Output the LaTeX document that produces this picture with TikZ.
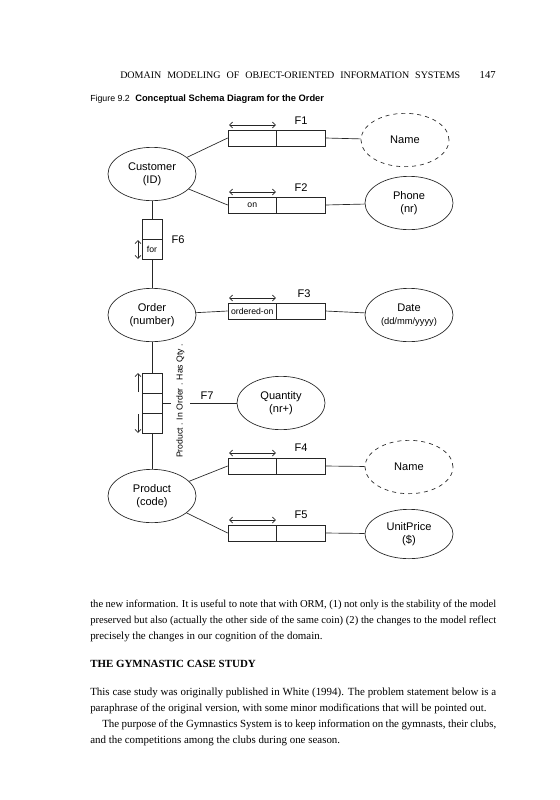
\documentclass[tikz,border=0pt]{standalone}
\usepackage{fontspec}
\setmainfont{Liberation Serif}
\setsansfont{Liberation Sans}
\usetikzlibrary{shapes.geometric,arrows.meta}
\begin{document}
\begin{tikzpicture}[x=0.75pt,y=-0.75pt,
  ln/.style={line width=0.5pt,draw=black!85},
  objtype/.style={ellipse,ln,inner sep=0pt,minimum width=66pt,minimum height=40pt,
     font=\sffamily\fontsize{8.3}{9.6}\selectfont,align=center},
  valtype/.style={objtype,dashed},
  rolebox/.style={rectangle,ln,inner sep=0pt,minimum width=36.4pt,minimum height=12pt,
     font=\sffamily\fontsize{6.5}{7.5}\selectfont},
  vrole/.style={rectangle,ln,inner sep=0pt,minimum width=15pt,minimum height=15pt,
     font=\sffamily\fontsize{6.5}{7.5}\selectfont},
  flabel/.style={font=\sffamily\fontsize{8.3}{9.6}\selectfont,inner sep=0pt},
  uc/.style={ln,{Straight Barb[length=2.4pt,width=4.5pt]}-{Straight Barb[length=2.4pt,width=4.5pt]}},
  ucone/.style={ln,-{Straight Barb[length=2.4pt,width=4.5pt]}},
  body/.style={font=\rmfamily\fontsize{8.2}{12}\selectfont,anchor=base west,inner sep=0pt},
  tightbody/.style={body,font=\rmfamily\fontsize{7.95}{12}\selectfont},
]
\useasboundingbox (0,0) rectangle (560,800);
\fill[white] (0,0) rectangle (560,800);

% header
\node[font=\rmfamily\fontsize{7.5}{8}\selectfont,anchor=base west,inner sep=0pt] (hdr) at (120,78)
  {\makebox[255pt][s]{DOMAIN MODELING OF OBJECT-ORIENTED INFORMATION SYSTEMS}};
\node[font=\rmfamily\fontsize{8}{9}\selectfont,anchor=base east,inner sep=0pt] (pg) at (496,78) {147};
\node[font=\sffamily\fontsize{6.6}{9}\selectfont,anchor=base west,inner sep=0pt] (fig) at (90,101) {Figure 9.2};
\node[font=\sffamily\bfseries\fontsize{7}{9}\selectfont,anchor=base west,inner sep=0pt] (cap) at (135,101) {Conceptual Schema Diagram for the Order};

% object types
\node[objtype] (cust) at (152,174) {Customer\\(ID)};
\node[objtype] (order) at (152,315) {Order\\(number)};
\node[objtype] (prod) at (152,496) {Product\\(code)};
\node[valtype] (name1) at (405,140) {Name};
\node[objtype] (phone) at (409,203) {Phone\\(nr)};
\node[objtype] (date) at (409,315) {Date\\{\fontsize{7}{8.5}\selectfont(dd/mm/yyyy)}};
\node[objtype] (qty) at (281,403) {Quantity\\(nr+)};
\node[valtype] (name2) at (409,467) {Name};
\node[objtype,minimum height=37pt] (price) at (409,534) {UnitPrice\\(\$)};

% F1
\node[rolebox] (f1a) at (252.25,138) {};
\node[rolebox] (f1b) at (300.75,138) {};
\draw[uc] (229,125) -- (276,125);
\node[flabel] (lf1) at (301,121) {F1};
\draw[ln] (cust) -- (f1a.west);
\draw[ln] (f1b.east) -- (name1);
% F2
\node[rolebox] (f2a) at (252.25,205) {on};
\node[rolebox] (f2b) at (300.75,205) {};
\draw[uc] (229,192) -- (276,192);
\node[flabel] (lf2) at (301,188) {F2};
\draw[ln] (cust) -- (f2a.west);
\draw[ln] (f2b.east) -- (phone);
% F3
\node[rolebox] (f3a) at (252.25,311) {ordered-on};
\node[rolebox] (f3b) at (300.75,311) {};
\draw[uc] (229,298) -- (276,298);
\node[flabel] (lf3) at (304,294) {F3};
\draw[ln] (order) -- (f3a.west);
\draw[ln] (f3b.east) -- (date);
% F4
\node[rolebox] (f4a) at (252.25,466) {};
\node[rolebox] (f4b) at (300.75,466) {};
\draw[uc] (229,453) -- (276,453);
\node[flabel] (lf4) at (301,448) {F4};
\draw[ln] (prod) -- (f4a.west);
\draw[ln] (f4b.east) -- (name2);
% F5
\node[rolebox] (f5a) at (252.25,533) {};
\node[rolebox] (f5b) at (300.75,533) {};
\draw[uc] (229,520) -- (276,520);
\node[flabel] (lf5) at (301,515) {F5};
\draw[ln] (prod) -- (f5a.west);
\draw[ln] (f5b.east) -- (price);

% F6
\node[vrole] (f6a) at (152,229) {};
\node[vrole] (f6b) at (152,249) {for};
\draw[uc] (138,240) -- (138,259);
\node[flabel] (lf6) at (178,240) {F6};
\draw[ln] (cust) -- (f6a.north);
\draw[ln] (f6b.south) -- (order);

% F7
\node[vrole] (f7a) at (152,383) {};
\node[vrole] (f7b) at (152,403) {};
\node[vrole] (f7c) at (152,423) {};
\draw[ucone] (138,392) -- (138,373);
\draw[ucone] (138,414) -- (138,433);
\draw[ln] (order) -- (f7a.north);
\draw[ln] (f7c.south) -- (prod);
\draw[ln] (f7b.east) -- (qty);
\node[flabel] (lf7) at (207,396) {F7};
\node[rotate=90,fill=white,inner xsep=1pt,inner ysep=4pt,font=\sffamily\fontsize{6.5}{7.5}\selectfont] (rdg) at (180.5,401) {Product . In Order . Has Qty .};

% body text
\node[tightbody] (l1) at (90,607) {\makebox[304.5pt][s]{the new information. It is useful to note that with ORM, (1) not only is the stability of the model}};
\node[tightbody] (l2) at (90,623) {\makebox[304.5pt][s]{preserved but also (actually the other side of the same coin) (2) the changes to the model reflect}};
\node[body] (l3) at (90,639) {precisely the changes in our cognition of the domain.};
\node[body,font=\rmfamily\bfseries\fontsize{8.2}{12}\selectfont] (hd) at (90,667) {THE GYMNASTIC CASE STUDY};
\node[body] (l4) at (90,695) {\makebox[304.5pt][s]{This case study was originally published in White (1994). The problem statement below is a}};
\node[body] (l5) at (90,711) {paraphrase of the original version, with some minor modifications that will be pointed out.};
\node[body] (l6) at (102,727) {\makebox[295.5pt][s]{The purpose of the Gymnastics System is to keep information on the gymnasts, their clubs,}};
\node[body] (l7) at (90,743) {and the competitions among the clubs during one season.};
\end{tikzpicture}
\end{document}
